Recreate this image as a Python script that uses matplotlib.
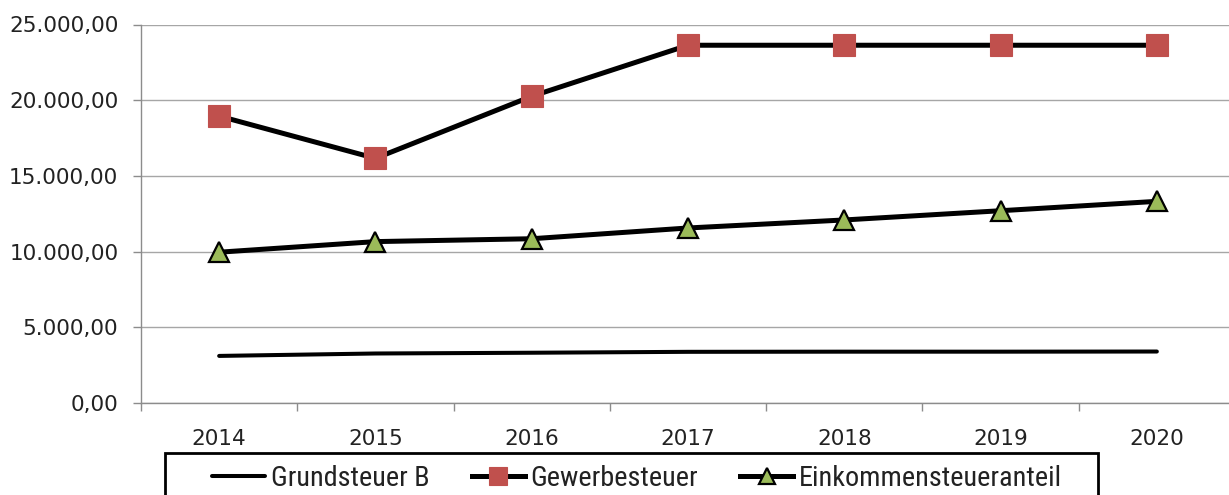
import matplotlib
matplotlib.use("Agg")
import os
import matplotlib.pyplot as plt
from matplotlib import font_manager
from matplotlib.font_manager import FontProperties
from matplotlib.textpath import TextPath
from matplotlib.patches import Rectangle
from matplotlib.ticker import FuncFormatter, FixedLocator

# Steuereinnahmen je Jahr
years = ["2014", "2015", "2016", "2017", "2018", "2019", "2020"]
grundsteuer_b = [3110, 3270, 3320, 3380, 3390, 3390, 3400]
gewerbesteuer = [18950, 16160, 20260, 23630, 23630, 23630, 23630]
einkommensteueranteil = [9960, 10660, 10850, 11560, 12090, 12700, 13320]

y_ticks = [0, 5000, 10000, 15000, 20000, 25000]

# Schmale Schrift fuer die Legende suchen (Excel-Legende wirkt gestaucht)
wanted = ["liberationsansnarrow-regular", "robotocondensed-regular", "dejavusanscondensed.",
          "opensans_condensed-regular", "opensans-condensed", "notosans-condensed."]
files = [f.fname for f in font_manager.fontManager.ttflist]
legend_fp = FontProperties(family="DejaVu Sans")
for key in wanted:
    hit = [p for p in files if key in os.path.basename(p).lower()]
    if hit:
        legend_fp = FontProperties(fname=hit[0])
        break

# Schriftgroesse so waehlen, dass der laengste Eintrag ~258 px breit ist
w100 = TextPath((0, 0), "Einkommensteueranteil", size=100, prop=legend_fp).get_extents().width
legend_size = 258 * 72 / w100
fs_px = legend_size * 100 / 72
legend_fp.set_size(legend_size)

W, H = 1229, 495
fig = plt.figure(figsize=(W / 100, H / 100), dpi=100)
ax = fig.add_axes([141 / W, 1 - 403 / H, (1235 - 141) / W, (403 - 24.5) / H])

x = list(range(len(years)))
grid_col = "#A6A6A6"

ax.plot(x, grundsteuer_b, color="black", lw=2.9, solid_capstyle="round",
        label="Grundsteuer B", zorder=3)
ax.plot(x, gewerbesteuer, color="black", lw=3.6, marker="s", ms=15.5,
        mfc="#C0504D", mec="#C0504D", mew=0.8, label="Gewerbesteuer", zorder=3)
ax.plot(x, einkommensteueranteil, color="black", lw=3.6, marker="^", ms=14.5,
        mfc="#9BBB59", mec="black", mew=1.6, label="Einkommensteueranteil", zorder=3)

ax.set_xlim(-0.5, len(years) - 0.5)
ax.set_ylim(0, 25000)

ax.set_yticks(y_ticks)
ax.yaxis.set_major_formatter(
    FuncFormatter(lambda v, p: f"{v:,.2f}".replace(",", "X").replace(".", ",").replace("X", ".")))
ax.set_xticks(x)
ax.set_xticklabels(years)
ax.xaxis.set_minor_locator(FixedLocator([i - 0.5 for i in range(len(years) + 1)]))

ax.grid(axis="y", color=grid_col, lw=1.0, zorder=0)
ax.set_axisbelow(True)

for s in ["top", "right"]:
    ax.spines[s].set_visible(False)
for s in ["left", "bottom"]:
    ax.spines[s].set_color("#8C8C8C")
    ax.spines[s].set_linewidth(1.0)

ax.tick_params(axis="y", length=5.8, width=1.0, color="#8C8C8C", pad=10.5,
               labelsize=15.5, labelcolor="#222222")
ax.tick_params(axis="x", which="major", length=0, pad=19, labelsize=15.5,
               labelcolor="#222222")
ax.tick_params(axis="x", which="minor", length=5.8, width=1.0, color="#8C8C8C")

# Legendenrahmen (unten abgeschnitten wie im Original)
fig.patches.append(Rectangle((165 / W, -0.05), (1098 - 165) / W, 0.05 + 1 - 453 / H,
                             transform=fig.transFigure, fill=False,
                             edgecolor="black", lw=2.0))
leg = fig.legend(loc="center left", bbox_to_anchor=(212 / W, 1 - 478 / H), ncol=3,
                 frameon=False, borderpad=0, borderaxespad=0, numpoints=1,
                 handlelength=53 / fs_px, handletextpad=6 / fs_px, columnspacing=42 / fs_px,
                 prop=legend_fp, markerscale=0.8)
for t in leg.get_texts():
    t.set_color("#222222")

fig.savefig("out.png", dpi=100)
